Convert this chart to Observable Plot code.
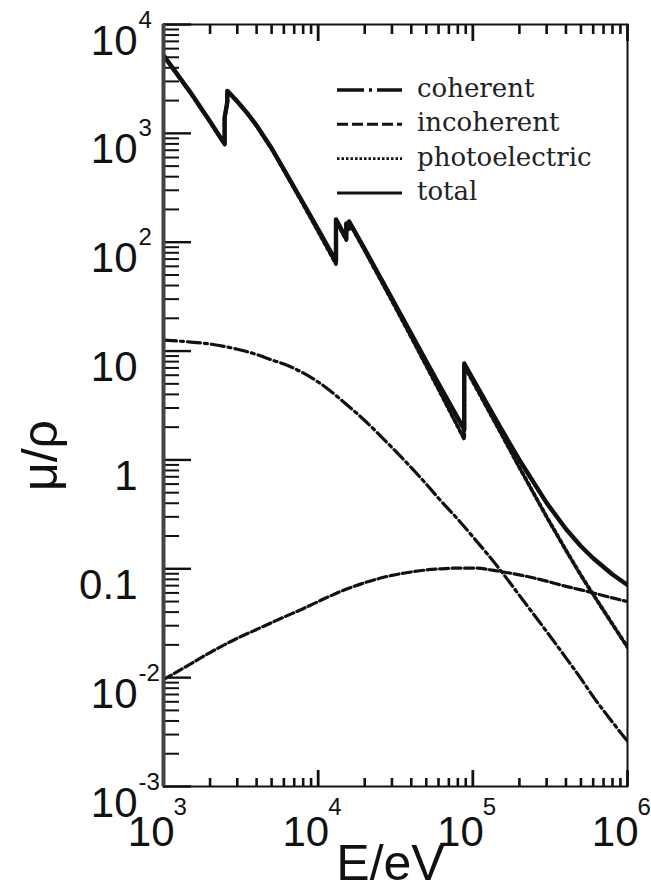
<!DOCTYPE html>
<html><head><meta charset="utf-8">
<script src="https://cdn.jsdelivr.net/npm/d3@7"></script>
<script src="https://cdn.jsdelivr.net/npm/@observablehq/plot@0.6"></script>
<style>html,body{margin:0;padding:0;background:#fff;} svg{display:block}</style>
</head><body><div id="chart"></div>
<script>
// ---- data (energy in eV, mass attenuation coefficient) ----
const totalE = [1000,1500,2000,2484,2484,2586,2586,3000,3500,4000,5000,6000,8000,10000,13035,13035,15000,15200,15200,15860,15860,20000,30000,40000,50000,60000,80000,88004,88004,100000,150000,200000,300000,400000,500000,600000,800000,1000000];
const totalV = [5210,2356,1285,800,1397,1944,2458,1965,1520,1180,730,467,229,131,67,162,112,108,148.5,134,155,86.4,30.3,14.4,8.04,5.02,2.42,1.91,7.68,5.55,2.01,0.999,0.403,0.232,0.161,0.125,0.0887,0.071];
const photoE = [1000,1500,2000,2484,2484,2586,2586,3000,3500,4000,5000,6000,8000,10000,13035,13035,15000,15200,15200,15860,15860,20000,30000,40000,50000,60000,80000,88004,88004,100000,150000,200000,300000,400000,500000,600000,800000,1000000];
const photoV = [5197,2344,1273,789,1386,1933,2447,1955,1510,1171,722,459,223,125.6,63,158,108.6,104.7,145.2,130.8,151.8,84.0,28.9,13.4,7.32,4.46,2.02,1.55,7.32,5.24,1.82,0.853,0.300,0.148,0.087,0.058,0.031,0.019];
const coherentE = [1000,1500,2000,3000,4000,5000,6000,8000,10000,15000,20000,30000,40000,50000,60000,80000,100000,150000,200000,300000,400000,500000,600000,800000,1000000];
const coherentV = [12.6,12.1,11.6,10.4,9.3,8.3,7.6,6.3,5.2,3.3,2.3,1.3,0.85,0.6,0.445,0.285,0.197,0.098,0.057,0.0265,0.0152,0.0098,0.0067,0.0039,0.0026];
const incoherentE = [1000,1500,2000,3000,4000,5000,6000,8000,10000,15000,20000,30000,40000,50000,60000,80000,100000,150000,200000,300000,400000,500000,600000,800000,1000000];
const incoherentV = [0.0096,0.0134,0.017,0.023,0.0277,0.032,0.036,0.043,0.050,0.0645,0.0745,0.087,0.0935,0.0975,0.0995,0.1015,0.1015,0.0945,0.088,0.077,0.069,0.064,0.060,0.054,0.050];

const seriesNames = ["coherent","incoherent","photoelectric","total"];

const xTicks = [1e3,1e4,1e5,1e6];
const xTickBase = ["10","10","10","10"];
const xTickExp = ["3","4","5","6"];
const yTicks = [1e4,1e3,1e2,10,1,0.1,1e-2,1e-3];
const yTickBase = ["10","10","10","10","1","0.1","10","10"];
const yTickExp = ["4","3","2","","","","-2","-3"];
const xTitle = "E/eV";
const yTitle = "μ/ρ";

// ---- layout ----
const W = 651, H = 890, mL = 163, mR = 24, mT = 24, mB = 104;
const pw = W - mL - mR, ph = H - mT - mB;
const ink = "#111";
const sans = "'Liberation Sans', Arial, sans-serif";
const serif = "'DejaVu Serif', serif";

const rows = (E, V) => E.map((e, i) => ({E: e, v: V[i]}));
const total = rows(totalE, totalV);
const photo = rows(photoE, photoV);
const coherent = rows(coherentE, coherentV);
const incoherent = rows(incoherentE, incoherentV);

// minor tick positions from the log scale decades
const minorX = [], minorY = [];
for (let d = 3; d < 6; d++) for (let k = 2; k <= 9; k++) minorX.push(k * 10 ** d);
for (let d = -3; d < 4; d++) for (let k = 2; k <= 9; k++) minorY.push(k * 10 ** d);

const styles = {
  coherent: {stroke: ink, strokeWidth: 3.2, strokeDasharray: "13,4,3,4", curve: "monotone-x"},
  incoherent: {stroke: ink, strokeWidth: 3.2, strokeDasharray: "9,3.5", curve: "monotone-x"},
  photoelectric: {stroke: ink, strokeWidth: 3.8, strokeDasharray: "3,3"},
  total: {stroke: ink, strokeWidth: 4.4}
};

const plot = Plot.plot({
  width: W, height: H,
  marginLeft: mL, marginRight: mR, marginTop: mT, marginBottom: mB,
  x: {type: "log", domain: [1e3, 1e6], axis: null},
  y: {type: "log", domain: [1e-3, 1e4], axis: null},
  style: {background: "#fff", overflow: "visible"},
  marks: [
    // inner ticks
    Plot.ruleY(minorY, {y: d => d, insetRight: pw - 16, stroke: ink, strokeWidth: 2}),
    Plot.ruleY(yTicks, {y: d => d, insetRight: pw - 28, stroke: ink, strokeWidth: 2.4}),
    Plot.ruleX(minorX, {x: d => d, insetBottom: ph - 10, stroke: ink, strokeWidth: 2.6}),
    Plot.ruleX(xTicks, {x: d => d, insetBottom: ph - 17, stroke: ink, strokeWidth: 2.8}),
    Plot.ruleX(minorX, {x: d => d, insetTop: ph - 8, stroke: ink, strokeWidth: 2.6}),
    Plot.ruleX(xTicks, {x: d => d, insetTop: ph - 16, stroke: ink, strokeWidth: 2.8}),
    // curves
    Plot.line(incoherent, {x: "E", y: "v", ...styles.incoherent, clip: true}),
    Plot.line(coherent, {x: "E", y: "v", ...styles.coherent, clip: true}),
    Plot.line(total, {x: "E", y: "v", ...styles.total, clip: true}),
    Plot.line(photo, {x: "E", y: "v", ...styles.photoelectric, clip: true}),
    // frame
    Plot.frame({stroke: ink, strokeWidth: 2}),
    Plot.ruleX([1e3], {x: d => d, stroke: "#444", strokeWidth: 4}),
    // y tick labels
    Plot.text(yTicks, {y: d => d, text: (d, i) => yTickBase[i], frameAnchor: "left", textAnchor: "end", lineAnchor: "bottom", dx: -26, dy: 30, fontSize: 42, fontFamily: sans, fill: ink}),
    Plot.text(yTicks, {y: d => d, text: (d, i) => yTickExp[i], frameAnchor: "left", textAnchor: "start", lineAnchor: "bottom", dx: -25, dy: 3, fontSize: 24, fontFamily: sans, fill: ink}),
    // x tick labels
    Plot.text(xTicks, {x: d => d, text: (d, i) => xTickBase[i], frameAnchor: "bottom", textAnchor: "end", lineAnchor: "bottom", dx: 11, dy: 59, fontSize: 42, fontFamily: sans, fill: ink}),
    Plot.text(xTicks, {x: d => d, text: (d, i) => xTickExp[i], frameAnchor: "bottom", textAnchor: "start", lineAnchor: "bottom", dx: 10, dy: 28, fontSize: 24, fontFamily: sans, fill: ink}),
    // axis titles
    Plot.text([xTitle], {frameAnchor: "bottom", textAnchor: "middle", lineAnchor: "bottom", dx: -5, dy: 93, fontSize: 50, fontFamily: sans, fill: ink}),
    Plot.text([yTitle], {frameAnchor: "left", textAnchor: "middle", lineAnchor: "middle", rotate: -90, dx: -123, dy: 50, fontSize: 50, fontFamily: sans, fill: ink})
  ]
});

// ---- legend inside the frame (top right) ----
const svg = d3.select(plot);
const legendDash = {
  coherent: {w: 3.6, dash: "27,5,3,5"},
  incoherent: {w: 3, dash: "11,4"},
  photoelectric: {w: 2.6, dash: "2.5,2"},
  total: {w: 3, dash: null}
};
const lg = svg.append("g").attr("class", "legend").attr("text-anchor", "start");
seriesNames.forEach((name, i) => {
  const y = 90 + i * 34.3;
  const st = legendDash[name];
  lg.append("line").attr("x1", 337).attr("x2", 402).attr("y1", y).attr("y2", y)
    .attr("stroke", ink).attr("stroke-width", st.w).attr("stroke-dasharray", st.dash);
  lg.append("text").attr("x", 417).attr("y", y + 7).text(name)
    .attr("text-anchor", "start")
    .attr("font-family", serif).attr("font-size", 26).attr("fill", "#222");
});

document.getElementById("chart").append(plot);
</script></body></html>
